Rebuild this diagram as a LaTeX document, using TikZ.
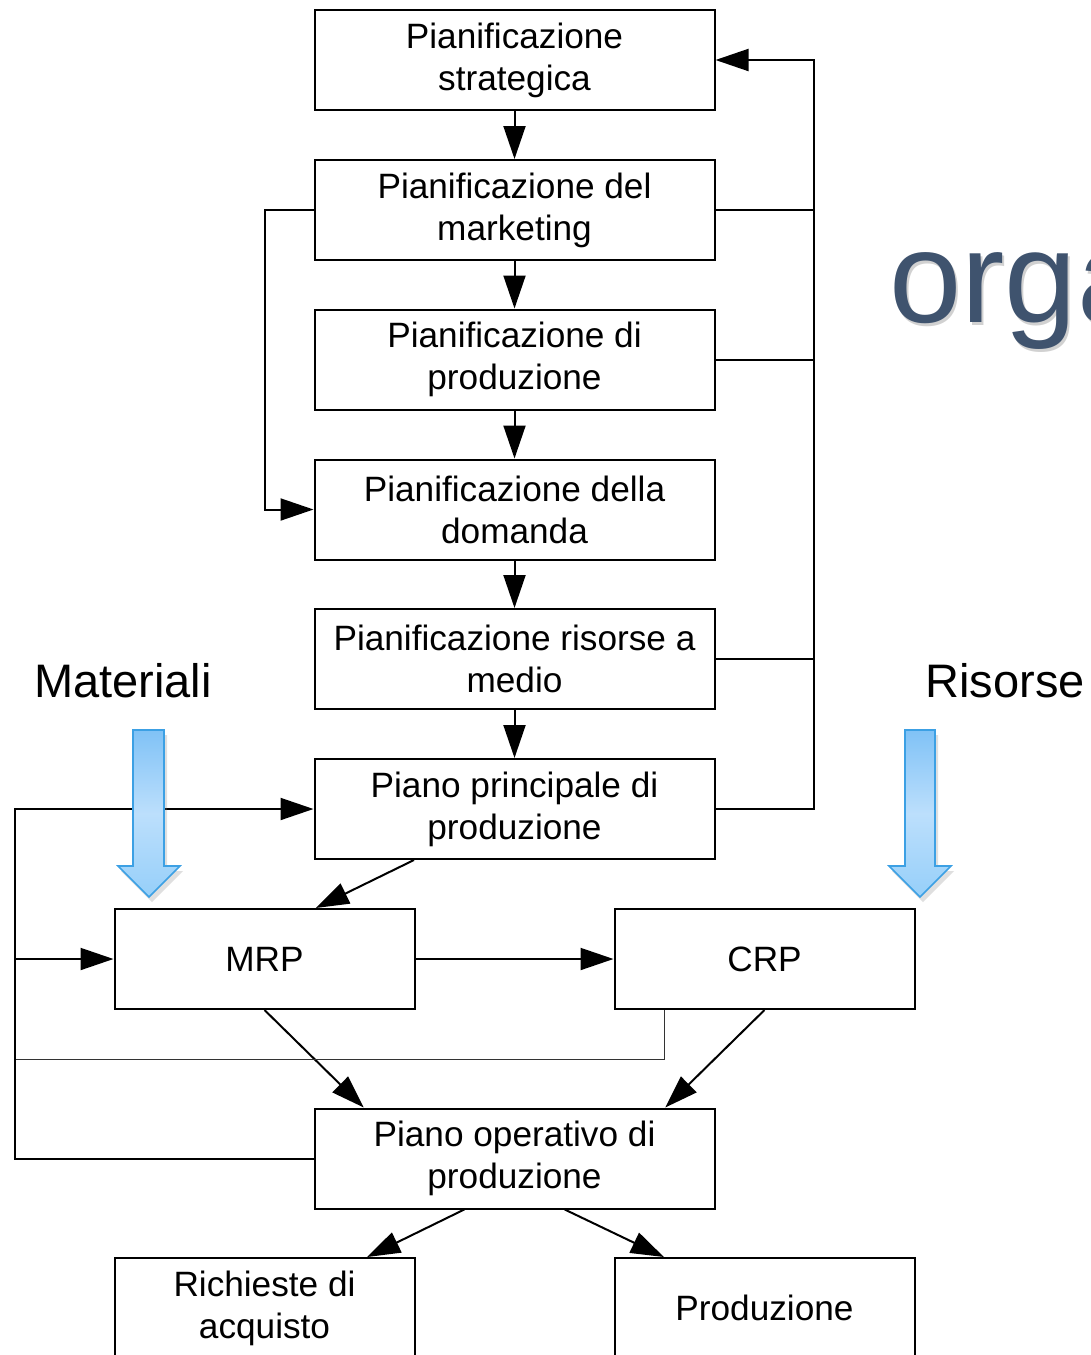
\documentclass[tikz,border=0pt]{standalone}
\usepackage{fontspec}
\setmainfont{Liberation Sans}
\usetikzlibrary{arrows.meta,calc,shadows}
\definecolor{orgablue}{RGB}{63,83,110}
\definecolor{flowedge}{RGB}{60,160,228}
\definecolor{flowtop}{RGB}{128,194,246}
\definecolor{flowmid}{RGB}{188,223,252}
\definecolor{flowbot}{RGB}{150,207,249}
\begin{document}
\begin{tikzpicture}[x=0.5pt,y=-0.5pt,
  box/.style={draw, line width=1pt, minimum width=200pt, minimum height=50pt,
    inner sep=0pt, align=center, font=\fontsize{17.6}{21}\selectfont},
  narrowbox/.style={box, minimum width=150pt},
  arr/.style={line width=1pt, -{Triangle[length=16.5pt,width=11pt]}},
  link/.style={line width=1pt},
  thinlink/.style={line width=0.5pt, black!80},
  flow/.style={draw=flowedge, line width=0.8pt, line join=miter,
    top color=flowtop, bottom color=flowbot, middle color=flowmid,
    drop shadow={opacity=0.25, shadow xshift=1.5pt, shadow yshift=-2.5pt}},
  side/.style={font=\fontsize{23.5}{28}\selectfont, inner sep=0pt, anchor=base}]
\useasboundingbox (0,0) rectangle (1091,1355);
\clip (0,0) rectangle (1091,1355);

% background title fragment (runs off the right edge)
\node[anchor=base west, inner sep=0pt, text=black, opacity=0.18,
  font=\fontsize{65}{65}\selectfont] at (891,325) {orga};
\node[anchor=base west, inner sep=0pt, text=orgablue,
  font=\fontsize{65}{65}\selectfont] (orga) at (889,322) {orga};

% planning chain
\node[box] (b1) at (514.5,60)   {Pianificazione\\strategica};
\node[box] (b2) at (514.5,210)  {Pianificazione del\\marketing};
\node[box] (b3) at (514.5,359.5){Pianificazione di\\produzione};
\node[box] (b4) at (514.5,509.5){Pianificazione della\\domanda};
\node[box] (b5) at (514.5,659)  {Pianificazione risorse a\\medio};
\node[box] (b6) at (514.5,809)  {Piano principale di\\produzione};
\node[narrowbox] (mrp) at (264.5,959) {MRP};
\node[narrowbox] (crp) at (764.5,959) {CRP};
\node[box] (po)  at (514.5,1158.5) {Piano operativo di\\produzione};
\node[narrowbox] (ric) at (264.5,1308) {Richieste di\\acquisto};
\node[narrowbox] (prod) at (764.5,1308) {Produzione};

% side labels
\node[side] (mat) at (123,697) {Materiali};
\node[side] (ris) at (1005,697) {Risorse};

% main downward chain
\draw[arr] (b1) -- (b2);
\draw[arr] (b2) -- (b3);
\draw[arr] (b3) -- (b4);
\draw[arr] (b4) -- (b5);
\draw[arr] (b5) -- (b6);

% feedback bus on the right
\coordinate (fb) at (814,809);
\draw[arr] (b6.east) -- (fb) |- (b1.east);
\draw[link] (b2.east) -- (b2.east -| fb);
\draw[link] (b3.east) -- (b3.east -| fb);
\draw[link] (b5.east) -- (b5.east -| fb);

% marketing to demand
\draw[arr] (b2.west) -- ++(-49,0) |- (b4.west);

% master plan to MRP / CRP
\draw[arr] ($(b6.south west)!0.25!(b6.south east)$) -- ($(mrp.north west)!0.67!(mrp.north east)$);
\draw[arr] (mrp) -- (crp);
\draw[arr] (mrp.south) -- ($(po.north west)!0.125!(po.north east)$);
\draw[arr] (crp.south) -- ($(po.north west)!0.875!(po.north east)$);

% CRP return line
\coordinate (crpret) at ($(crp.south west)+(51,0)$);
\draw[thinlink] (crpret) -- ++(0,49) -| (15,1058);

% outer loop on the left
\coordinate (lft) at (15,959);
\draw[link] (po.west) -- (15,1158.5) -- (lft);
\draw[arr] (lft) |- (b6.west);
\draw[arr] (lft) -- (mrp.west);

% operational plan outputs
\draw[arr] ($(po.south west)!0.375!(po.south east)$) -- ($(ric.north west)!0.84!(ric.north east)$);
\draw[arr] ($(po.south west)!0.625!(po.south east)$) -- ($(prod.north west)!0.167!(prod.north east)$);

% input flow arrows
\path[flow] (133,730) -- (164,730) -- (164,866) -- (180,866) -- (149,897)
  -- (118,866) -- (133,866) -- cycle;
\path[flow] (905,730) -- (935,730) -- (935,866) -- (951,866) -- (920,897)
  -- (889,866) -- (905,866) -- cycle;
\end{tikzpicture}
\end{document}
